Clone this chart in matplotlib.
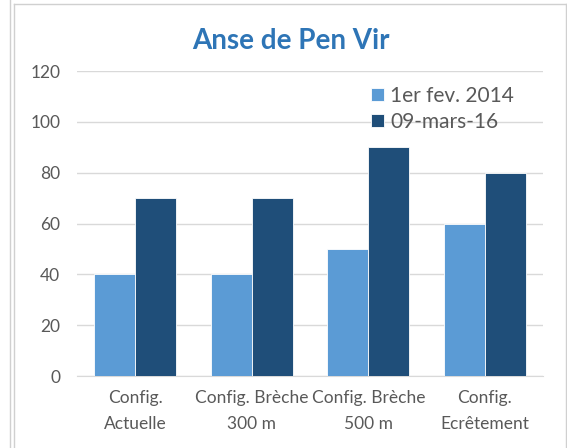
import matplotlib.pyplot as plt
import numpy as np
from matplotlib.lines import Line2D

categories = ['Config.\nActuelle', 'Config. Brèche\n300 m', 'Config. Brèche\n500 m', 'Config.\nEcrêtement']
series_names = ['1er fev. 2014', '09-mars-16']
vals_2014 = [40, 40, 50, 60]
vals_2016 = [70, 70, 90, 80]
yticks = [0, 20, 40, 60, 80, 100, 120]

plt.rcParams['font.family'] = ['Lato', 'DejaVu Sans']

W, H = 567, 448
fig = plt.figure(figsize=(W / 100, H / 100), dpi=100)
ax = fig.add_axes([77 / W, 1 - 376 / H, (543 - 77) / W, (376 - 71) / H])

x = np.arange(len(categories))
bw = 0.35
ax.bar(x - bw / 2, vals_2014, bw, color='#5B9BD5', edgecolor='white', linewidth=0.6,
       label=series_names[0], zorder=3)
ax.bar(x + bw / 2, vals_2016, bw, color='#1F4E79', edgecolor='white', linewidth=0.6,
       label=series_names[1], zorder=3)

ax.set_xlim(-0.5, len(categories) - 0.5)
ax.set_ylim(0, 120)
ax.set_yticks(yticks)
ax.set_xticks(x)
ax.set_xticklabels(categories, fontsize=12.5, color='#595959', linespacing=1.75)
ax.tick_params(axis='y', labelsize=12.5, colors='#595959', length=0, pad=12)
ax.tick_params(axis='x', length=0, pad=10)
ax.grid(axis='y', color='#D9D9D9', linewidth=1, zorder=0)
for s in ['top', 'right', 'left']:
    ax.spines[s].set_visible(False)
ax.spines['bottom'].set_color('#D9D9D9')

fig.text(291 / W, 1 - 41 / H, 'Anse de Pen Vir', fontsize=20, fontweight='bold',
         color='#2E75B6', ha='center', va='center')

ax.legend(loc='upper left', bbox_to_anchor=(0.6, 1.0), frameon=False, fontsize=15,
          handlelength=0.6, handleheight=0.6, handletextpad=0.3, labelspacing=0.3,
          labelcolor='#595959', borderaxespad=0.3)

# chart borders
fig.add_artist(Line2D([9.5 / W, 9.5 / W], [0, 1], color='#D0D0D0', lw=1))
fig.add_artist(Line2D([14 / W, 14 / W], [0, 1 - 4 / H], color='#D0D0D0', lw=1))
fig.add_artist(Line2D([14 / W, 566 / W], [1 - 4 / H, 1 - 4 / H], color='#D0D0D0', lw=1))
fig.add_artist(Line2D([566 / W, 566 / W], [0, 1 - 4 / H], color='#D0D0D0', lw=1))

fig.savefig('out.png', dpi=100)
